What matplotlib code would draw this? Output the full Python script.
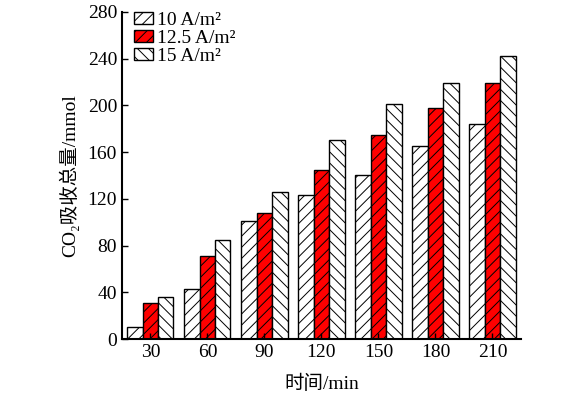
import numpy as np
import matplotlib.pyplot as plt

plt.rcParams['font.family'] = ['Liberation Serif', 'Noto Sans CJK SC']
plt.rcParams['hatch.linewidth'] = 0.7

times = ['30', '60', '90', '120', '150', '180', '210']
cur_10 = [10, 43, 101, 123, 140, 165, 184]
cur_125 = [31, 71, 108, 145, 175, 198, 219]
cur_15 = [36, 85, 126, 170, 201, 219, 242]
labels = ['10 A/m\u00b2', '12.5 A/m\u00b2', '15 A/m\u00b2']
yticks = [0, 40, 80, 120, 160, 200, 240, 280]

fig = plt.figure(figsize=(5.75, 3.97), dpi=100)
ax = fig.add_axes([0.212, 0.146, 0.694, 0.824])

x = np.arange(len(times))
w = 0.27
ax.bar(x - w, cur_10, w, color='white', edgecolor='black', linewidth=1, hatch='///', label=labels[0])
ax.bar(x, cur_125, w, color='#ff0000', edgecolor='black', linewidth=1, hatch='///', label=labels[1])
ax.bar(x + w, cur_15, w, color='white', edgecolor='black', linewidth=1, hatch='\\\\\\', label=labels[2])

ax.set_xlim(-0.5, len(times) - 0.5)
ax.set_ylim(0, 280)
ax.set_xticks(x)
ax.set_xticklabels(times)
ax.set_yticks(yticks)
ax.tick_params(direction='in', labelsize=14, width=1, length=4)
for s in ['top', 'right']:
    ax.spines[s].set_visible(False)
for s in ['left', 'bottom']:
    ax.spines[s].set_linewidth(1.5)

ax.set_xlabel('时间/min', fontsize=14, labelpad=10)
ax.set_ylabel('CO\u2082吸收总量/mmol', fontsize=14, labelpad=6)

ax.legend(loc='upper left', frameon=False, fontsize=14, handlelength=1.0, handleheight=0.55,
          handletextpad=0.2, labelspacing=0.05, borderaxespad=0.0, borderpad=0.0,
          bbox_to_anchor=(0.03, 1.0))

plt.savefig('out.png', dpi=100)
